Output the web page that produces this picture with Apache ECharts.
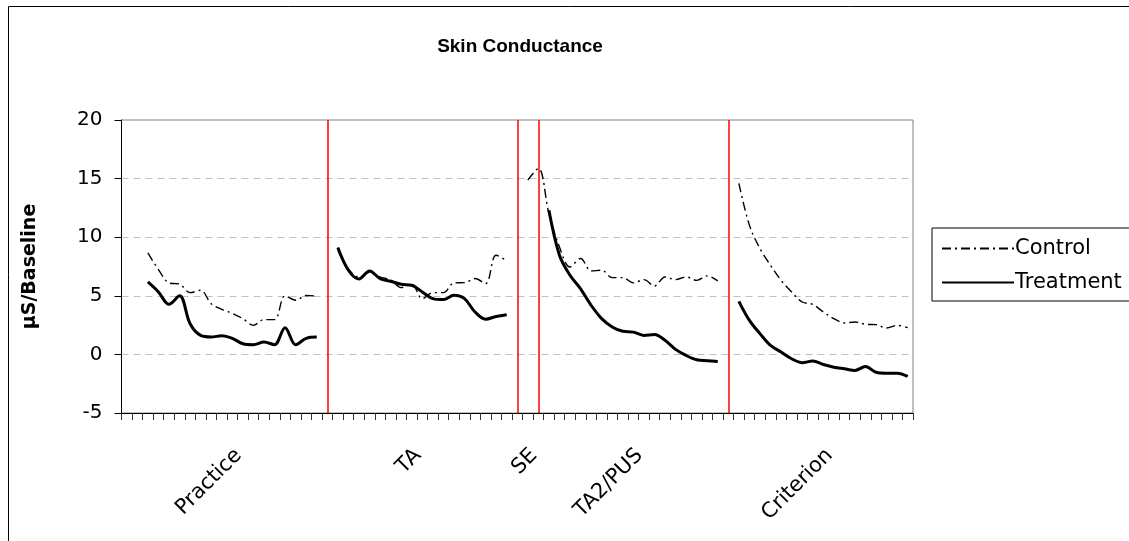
<!DOCTYPE html>
<html>
<head>
<meta charset="utf-8">
<script src="https://cdn.jsdelivr.net/npm/echarts@6/dist/echarts.min.js"></script>
<style>
html,body{margin:0;padding:0;background:#fff;}
#chart{width:1129px;height:541px;}
</style>
</head>
<body>
<div id="chart"></div>
<script>
// ---- data ----
const chartTitle = 'Skin Conductance';
const yAxisTitle = 'µS/Baseline';
const seriesNames = ['Control', 'Treatment'];
const phaseNames = ['Practice', 'TA', 'SE', 'TA2/PUS', 'Criterion'];
const phaseLabelIndex = [11, 28, 39, 49, 67];
const phaseDividers = [19, 37, 39, 57];
const categoryCount = 75;
const yTicks = [-5, 0, 5, 10, 15, 20];

const controlValues = [
  null, null,
  8.66, 7.24, 6.1, 6.0, 5.27, 5.47, 4.33, 3.85, 3.5, 3.05, 2.48, 2.97, 2.97, 4.99, 4.62, 5.03, 4.98,
  null,
  8.9, 7.3, 6.6, 7.0, 6.6, 6.37, 5.7, 6.0, 4.76, 5.27, 5.27, 6.1, 6.12, 6.47, 6.04, 8.46, 8.0,
  null,
  14.87, 15.87, 12.02, 9.17, 7.46, 8.18, 7.12, 7.18, 6.55, 6.55, 6.1, 6.38, 5.84, 6.61, 6.38, 6.61, 6.32, 6.7, 6.27,
  null,
  14.59, 11.03, 9.03, 7.6, 6.32, 5.33, 4.47, 4.27, 3.62, 3.05, 2.68, 2.77, 2.57, 2.54, 2.25, 2.48, 2.28
];

const treatmentValues = [
  null, null,
  6.18, 5.33, 4.27, 5.0, 2.62, 1.62, 1.48, 1.6, 1.37, 0.91, 0.83, 1.06, 0.83, 2.28, 0.83, 1.37, 1.48,
  null,
  9.12, 7.18, 6.44, 7.12, 6.47, 6.24, 5.98, 5.9, 5.33, 4.76, 4.68, 5.04, 4.76, 3.62, 3.0, 3.24, 3.39,
  null, null, null,
  12.3, 8.46, 6.75, 5.6, 4.19, 3.05, 2.34, 1.97, 1.9, 1.62, 1.7, 1.2, 0.43, -0.09, -0.46, -0.54, -0.6,
  null,
  4.53, 2.9, 1.77, 0.77, 0.2, -0.37, -0.71, -0.57, -0.86, -1.09, -1.23, -1.37, -1.03, -1.52, -1.6, -1.6, -1.88
];

// ---- build ----
const categories = [];
for (let i = 0; i < categoryCount; i++) {
  const k = phaseLabelIndex.indexOf(i);
  categories.push(k >= 0 ? phaseNames[k] : '');
}

const FONT = 'DejaVu Sans';
const chart = echarts.init(document.getElementById('chart'), null, {renderer: 'canvas'});

chart.setOption({
  animation: false,
  backgroundColor: '#ffffff',
  title: {
    text: chartTitle,
    left: 515,
    top: 32,
    textAlign: 'center',
    textStyle: {fontFamily: 'Liberation Sans', fontWeight: 'bold', fontSize: 19, color: '#000'}
  },
  graphic: [{
    type: 'rect',
    shape: {x: 8.5, y: 6.5, width: 1140, height: 560},
    style: {fill: 'none', stroke: '#000', lineWidth: 1},
    silent: true,
    z: -1
  }],
  legend: {
    orient: 'vertical',
    left: 932,
    top: 228,
    padding: [10, 40, 8, 9],
    itemWidth: 72,
    itemHeight: 20,
    itemGap: 13,
    borderColor: '#000',
    borderWidth: 1,
    borderRadius: 0,
    itemStyle: {opacity: 0},
    lineStyle: {color: '#000'},
    textStyle: {fontFamily: FONT, fontSize: 21, color: '#000', padding: [0, 0, 0, -4]},
    data: seriesNames
  },
  grid: {
    left: 121.5,
    right: 216,
    top: 120,
    bottom: 128,
    show: true,
    borderColor: '#808080',
    borderWidth: 1,
    containLabel: false
  },
  xAxis: {
    type: 'category',
    data: categories,
    boundaryGap: true,
    axisLine: {show: true, onZero: false, lineStyle: {color: '#000', width: 1}},
    axisTick: {show: true, interval: 0, length: 7, inside: false, lineStyle: {color: '#333', width: 1}},
    axisLabel: {
      interval: 0,
      rotate: 45,
      margin: 35,
      padding: [0, 6, 0, 0],
      fontFamily: FONT,
      fontSize: 21,
      color: '#000'
    },
    splitLine: {show: false}
  },
  yAxis: {
    type: 'value',
    min: yTicks[0],
    max: yTicks[yTicks.length - 1],
    interval: 5,
    name: yAxisTitle,
    nameLocation: 'middle',
    nameRotate: 90,
    nameGap: 82,
    nameTextStyle: {fontFamily: FONT, fontWeight: 'bold', fontSize: 19, color: '#000'},
    axisLine: {show: true, lineStyle: {color: '#000', width: 1}},
    axisTick: {show: true, length: 7, lineStyle: {color: '#000'}},
    axisLabel: {fontFamily: FONT, fontSize: 20, color: '#000', margin: 19},
    splitLine: {show: true, lineStyle: {color: '#c0c0c0', width: 1, type: [7, 5]}}
  },
  series: [
    {
      name: seriesNames[0],
      type: 'line',
      data: controlValues,
      smooth: 0.35,
      connectNulls: false,
      symbol: 'none',
      showSymbol: false,
      itemStyle: {color: '#000'},
      lineStyle: {color: '#000', width: 1.4, type: [9, 4, 2, 4]},
      z: 3,
      markLine: {
        silent: true,
        symbol: ['none', 'none'],
        label: {show: false},
        lineStyle: {color: '#ff0000', width: 1.5, type: 'solid'},
        data: phaseDividers.map(i => ({xAxis: i}))
      }
    },
    {
      name: seriesNames[1],
      type: 'line',
      data: treatmentValues,
      smooth: 0.35,
      connectNulls: false,
      symbol: 'none',
      showSymbol: false,
      itemStyle: {color: '#000'},
      lineStyle: {color: '#000', width: 3},
      z: 4
    }
  ]
});
</script>
</body>
</html>
